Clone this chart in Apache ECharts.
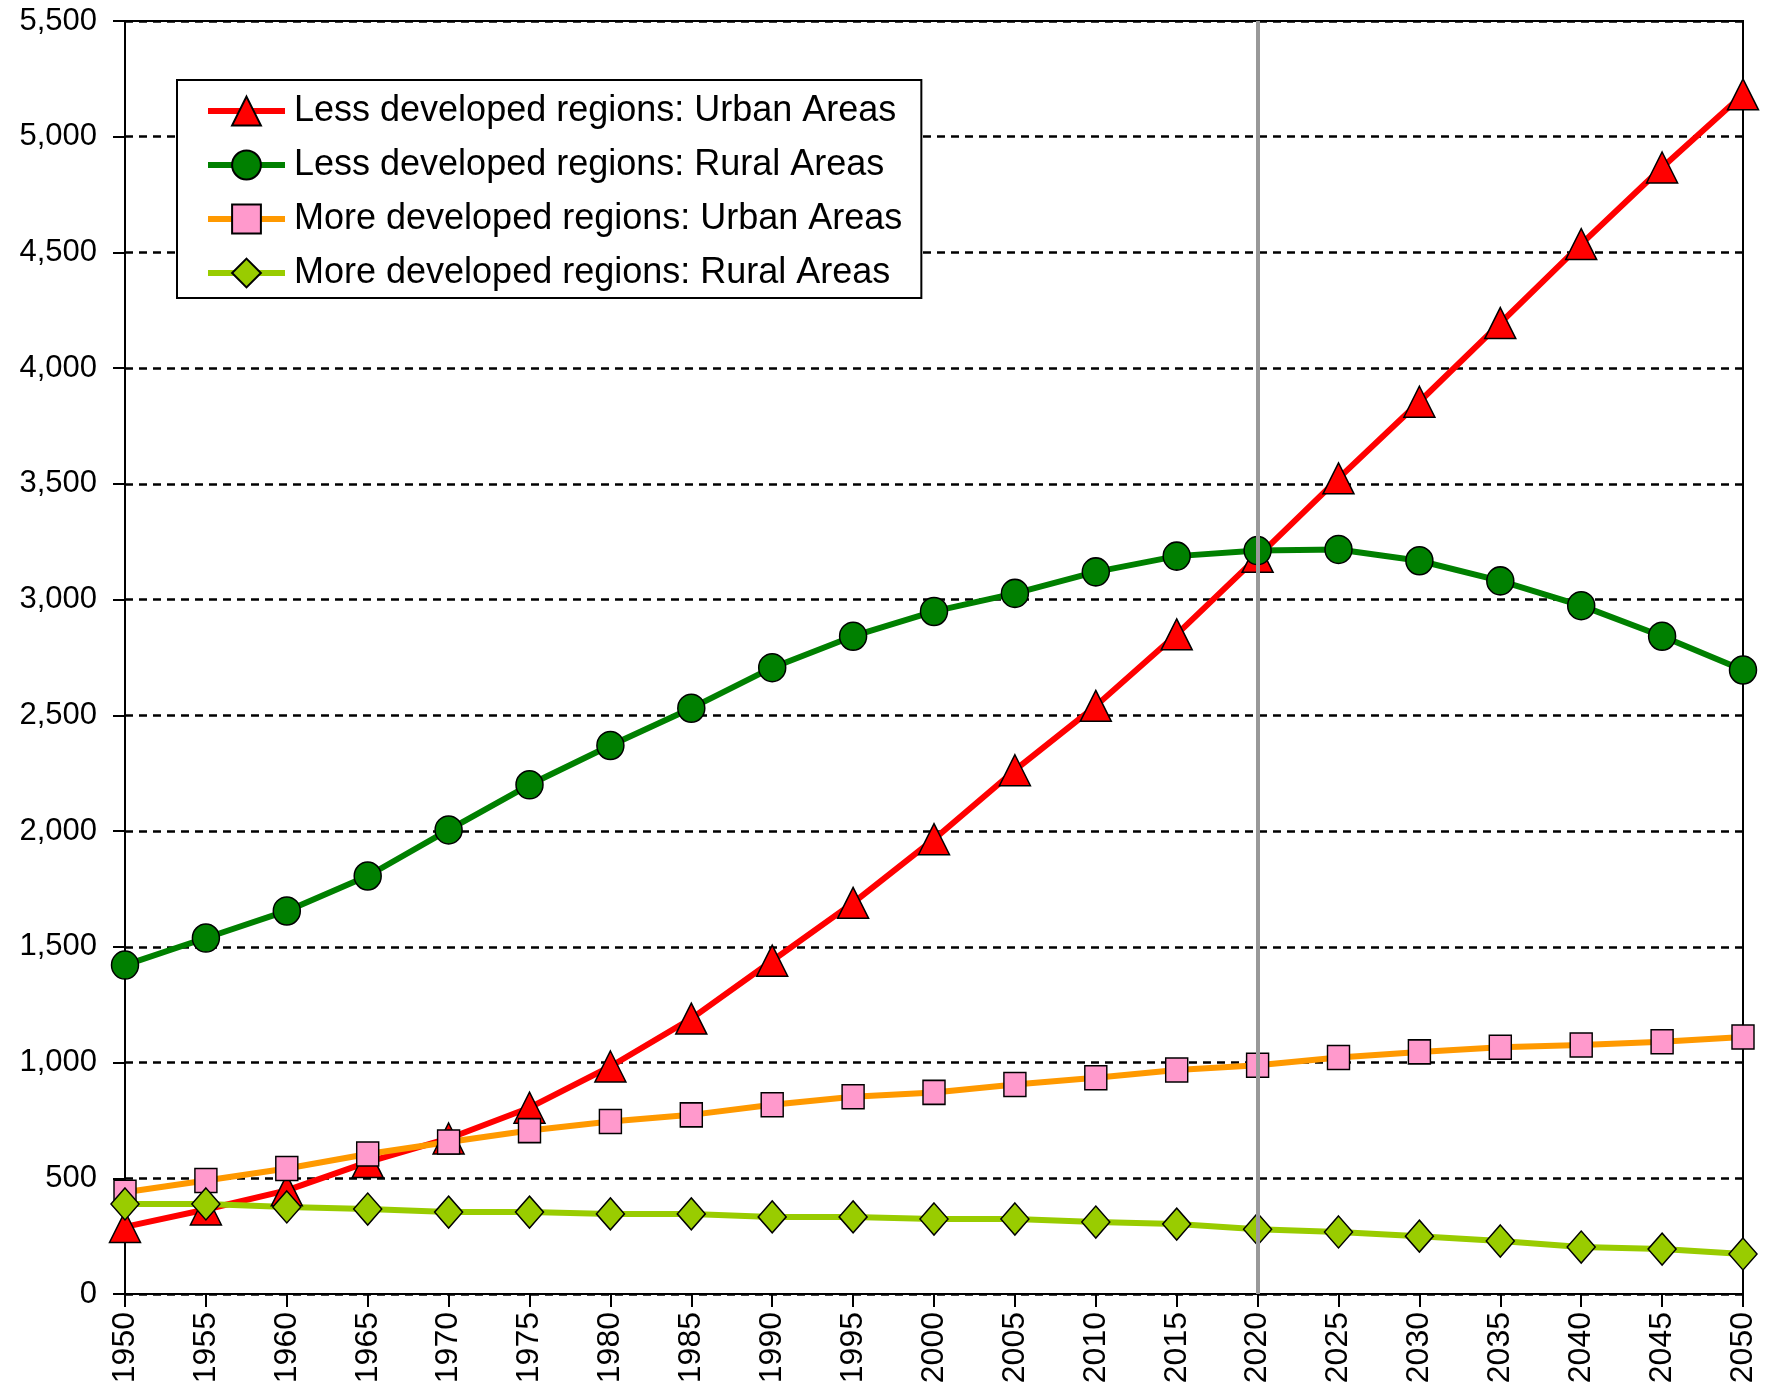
<!DOCTYPE html>
<html>
<head>
<meta charset="utf-8">
<script src="https://cdn.jsdelivr.net/npm/echarts@6/dist/echarts.min.js"></script>
<style>
  html, body { margin: 0; padding: 0; background: #fff; }
  #chart { width: 1765px; height: 1389px; }
</style>
</head>
<body>
<div id="chart"></div>
<script>
var years = ['1950','1955','1960','1965','1970','1975','1980','1985','1990','1995','2000',
             '2005','2010','2015','2020','2025','2030','2035','2040','2045','2050'];

var lessUrban = [290, 365, 448, 570, 672, 805, 983, 1190, 1440, 1690, 1965,
                 2263, 2541, 2850, 3185, 3524, 3855, 4195, 4536, 4867, 5183];
var lessRural = [1421, 1538, 1655, 1806, 2005, 2200, 2370, 2531, 2706, 2842, 2949,
                 3027, 3120, 3188, 3212, 3217, 3168, 3081, 2974, 2842, 2696];
var moreUrban = [440, 490, 542, 605, 657, 706, 745, 774, 818, 852, 871,
                 905, 934, 968, 988, 1022, 1046, 1066, 1076, 1090, 1110];
var moreRural = [389, 389, 376, 367, 354, 354, 346, 346, 333, 333, 324,
                 324, 311, 302, 280, 268, 250, 229, 203, 194, 173];

var names = ['Less developed regions: Urban Areas', 'Less developed regions: Rural Areas',
             'More developed regions: Urban Areas', 'More developed regions: Rural Areas'];
var markYear = '2020';

var chart = echarts.init(document.getElementById('chart'));

function lineSeries(name, data, color, fill, symbol, size) {
    return {
        name: name,
        type: 'line',
        data: data,
        symbol: symbol,
        symbolSize: size,
        showAllSymbol: true,
        lineStyle: { color: color, width: 6 },
        itemStyle: { color: fill, borderColor: '#000', borderWidth: 1.5 },
        emphasis: { disabled: true },
        animation: false
    };
}

var option = {
    animation: false,
    grid: {
        left: 125,
        right: 22,
        top: 21,
        bottom: 95,
        outerBoundsMode: 'none',
        containLabel: false,
        show: true,
        borderColor: '#000',
        borderWidth: 2,
        backgroundColor: '#fff'
    },
    legend: {
        data: names,
        orient: 'vertical',
        left: 177,
        top: 80,
        padding: [13, 19, 7, 28],
        itemGap: 18,
        itemWidth: 77,
        itemHeight: 36,
        backgroundColor: '#fff',
        borderColor: '#000',
        borderWidth: 2,
        borderRadius: 0,
        lineStyle: { width: 6 },
        textStyle: {
            fontFamily: 'Liberation Sans, Arial, sans-serif',
            fontSize: 36,
            lineHeight: 36,
            color: '#000',
            padding: [0, 0, 0, 4]
        }
    },
    xAxis: {
        type: 'category',
        data: years,
        boundaryGap: false,
        axisLine: { lineStyle: { color: '#000', width: 2 } },
        axisTick: { show: true, length: 13, lineStyle: { color: '#000', width: 2 } },
        axisLabel: {
            interval: 0,
            rotate: 90,
            margin: 18,
            color: '#000',
            fontSize: 32,
            fontFamily: 'Liberation Sans, Arial, sans-serif'
        },
        splitLine: { show: false }
    },
    yAxis: {
        type: 'value',
        min: 0,
        max: 5500,
        interval: 500,
        axisLine: { show: true, lineStyle: { color: '#000', width: 2 } },
        axisTick: { show: true, length: 12, lineStyle: { color: '#000', width: 2 } },
        axisLabel: {
            margin: 28,
            color: '#000',
            fontSize: 31,
            fontFamily: 'Liberation Sans, Arial, sans-serif',
            formatter: function (v) { return v.toLocaleString('en-US'); }
        },
        splitLine: { show: true, lineStyle: { color: '#000', width: 2.5, type: [8, 6] } }
    },
    series: [
        lineSeries(names[0], lessUrban, '#ff0000', '#ff0000', 'triangle', [31, 31]),
        lineSeries(names[1], lessRural, '#008000', '#008000', 'circle', [27, 28]),
        lineSeries(names[2], moreUrban, '#ff9900', '#ff99cc', 'rect', [22, 24]),
        lineSeries(names[3], moreRural, '#99cc00', '#99cc00', 'diamond', [28, 32]),
        {
            name: 'marker',
            type: 'line',
            data: [],
            z: 10,
            markLine: {
                silent: true,
                symbol: 'none',
                animation: false,
                label: { show: false },
                lineStyle: { color: '#999', width: 4, type: 'solid' },
                data: [{ xAxis: markYear }]
            }
        }
    ]
};

chart.setOption(option);
</script>
</body>
</html>
